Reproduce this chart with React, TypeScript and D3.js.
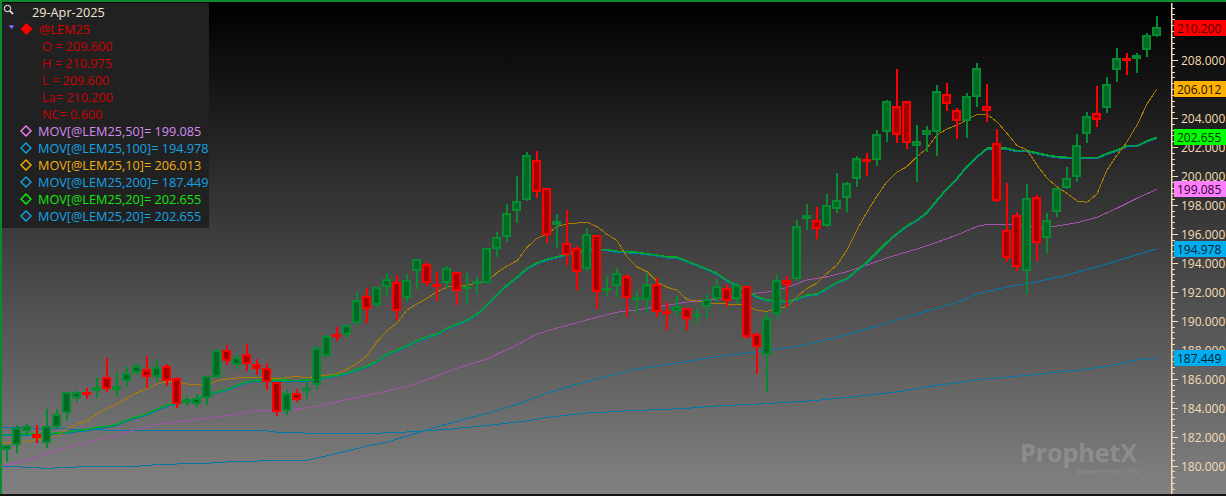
import React from 'react';
import * as d3 from 'd3';

// daily bars for @LEM25, oldest first
const opens = [181.09,181.41,182.42,182.19,181.55,182.65,183.62,184.65,185.09,185.14,186.10,185.25,185.83,186.38,186.65,186.14,186.88,186.03,184.31,184.26,184.65,186.10,187.97,186.97,187.69,187.02,186.76,185.78,183.80,185.00,185.21,185.57,187.59,189.09,189.04,189.83,191.71,191.11,192.31,192.66,191.60,193.42,193.90,192.54,192.61,193.39,192.29,192.66,192.63,194.94,195.76,197.56,198.34,201.10,199.17,196.63,195.39,195.05,193.60,195.94,192.13,192.40,193.11,191.51,191.42,192.56,190.66,190.66,190.91,190.31,190.95,191.53,192.29,191.49,192.38,189.07,187.66,190.45,192.80,192.89,197.01,196.98,196.56,197.74,198.46,199.77,201.17,201.08,203.01,204.85,205.19,202.09,202.84,203.01,205.67,204.57,203.77,205.43,204.80,202.29,196.27,197.32,193.42,198.52,195.69,197.49,199.19,199.95,202.87,204.36,204.67,207.33,208.14,208.05,208.69,209.69];
const highs = [181.43,182.79,182.88,182.79,183.89,183.89,185.09,185.23,185.36,186.12,187.43,186.47,186.88,187.07,187.57,187.34,187.02,186.12,184.86,184.95,186.21,187.99,188.33,187.71,188.40,187.37,187.07,185.78,185.23,185.27,185.80,188.26,189.02,189.55,189.83,191.99,192.27,192.35,193.30,193.14,193.23,194.25,194.06,193.37,193.76,193.39,193.30,193.02,195.05,196.11,198.04,199.99,201.63,201.72,199.17,197.37,197.65,195.16,196.38,195.94,193.02,193.62,193.21,192.04,193.28,192.93,191.28,191.69,190.91,190.88,191.85,192.89,192.54,192.63,192.38,189.25,190.52,193.14,193.07,196.94,198.06,197.83,198.75,200.18,199.58,201.37,201.58,203.17,205.24,207.38,205.19,203.51,203.44,206.27,206.41,204.67,205.70,207.77,206.34,203.22,199.49,197.53,199.42,198.68,197.42,199.19,200.59,202.87,204.39,206.21,206.81,208.81,208.46,208.46,209.84,211.02];
const lows = [180.28,180.90,182.10,181.59,181.24,182.51,183.09,184.40,184.61,184.69,185.11,184.76,185.41,186.24,185.34,185.76,185.52,184.00,184.14,184.05,184.21,186.03,186.95,186.65,186.56,186.28,185.23,183.45,183.50,184.40,184.61,185.32,187.52,188.61,188.90,189.71,189.87,190.88,191.73,190.06,191.30,192.20,192.42,191.37,192.27,191.09,191.16,191.85,192.59,194.40,195.46,196.77,198.27,198.50,195.39,195.05,193.80,192.15,193.46,190.80,191.73,191.66,190.28,190.56,190.56,190.28,189.37,190.24,189.37,189.80,190.22,191.32,190.97,191.16,188.75,186.35,185.11,190.10,190.97,192.77,196.29,195.67,196.50,197.46,197.53,199.26,199.99,200.68,202.34,202.27,201.86,199.58,201.65,201.37,204.48,202.55,202.62,204.74,203.74,198.22,194.08,193.44,191.85,194.15,194.70,197.14,199.12,199.60,202.25,203.40,204.36,206.50,206.98,207.12,208.23,209.60];
const closes = [181.41,182.58,182.76,181.91,182.76,183.59,185.07,185.07,184.90,185.41,185.32,185.52,186.38,186.88,186.10,186.79,185.87,184.26,184.58,184.65,186.21,187.97,187.25,187.48,187.00,186.70,185.76,183.73,185.00,184.56,185.34,188.15,188.97,188.90,189.73,191.46,190.84,192.35,192.91,190.66,192.84,194.25,192.63,192.35,193.62,192.08,192.40,192.77,195.05,195.81,197.46,198.29,201.46,198.87,195.92,196.87,194.56,193.35,196.01,191.97,192.27,193.32,191.55,191.64,192.56,190.59,190.52,191.04,190.10,190.45,191.53,192.38,191.39,192.45,188.90,188.21,190.22,192.84,192.45,196.56,197.32,196.36,198.01,198.36,199.49,201.22,201.03,202.91,205.15,202.84,202.25,202.43,203.15,205.88,204.94,203.77,205.54,207.47,204.50,198.29,194.31,193.73,198.50,195.35,196.94,199.19,199.88,202.15,204.16,203.84,206.36,208.16,208.02,208.32,209.72,210.29];

// moving averages, the first point sits on the left edge of the plot
const ma10 = [181.57,181.60,181.67,181.81,182.00,182.07,182.53,182.88,183.07,183.57,183.96,184.24,184.65,185.04,185.29,185.64,185.80,185.78,185.64,185.57,185.57,185.87,185.98,186.05,186.10,186.10,186.03,186.01,186.07,186.17,186.05,186.21,186.26,186.35,186.65,187.07,187.57,188.56,189.32,189.83,190.75,191.16,191.55,192.01,192.31,192.47,192.47,192.59,192.71,193.32,193.78,194.15,195.07,195.69,195.97,196.50,196.68,196.75,196.80,196.50,195.97,195.53,194.42,193.73,193.39,192.70,192.31,192.13,191.46,191.37,191.26,191.18,191.16,191.11,191.07,190.70,190.66,190.86,190.97,191.66,192.24,192.59,193.28,193.85,194.89,196.27,197.51,198.61,199.60,200.27,200.64,201.33,201.91,202.82,203.24,203.51,203.86,204.25,204.25,203.74,202.94,202.09,201.79,200.75,199.84,199.26,198.80,198.27,198.18,198.75,200.41,201.44,202.36,203.51,204.96,206.013];
const ma20 = [182.17,182.17,182.18,182.19,182.19,182.26,182.31,182.42,182.49,182.65,182.72,182.86,183.16,183.38,183.57,183.91,184.19,184.31,184.49,184.67,184.88,185.11,185.27,185.57,185.80,185.90,185.92,185.90,185.90,185.88,185.92,185.96,186.14,186.26,186.38,186.65,186.88,187.23,187.69,187.99,188.28,188.63,188.90,189.09,189.48,189.78,190.06,190.47,191.13,191.82,192.47,193.02,193.62,193.99,194.25,194.42,194.59,194.77,194.89,194.94,194.91,194.80,194.77,194.73,194.63,194.54,194.42,194.40,194.13,193.85,193.58,193.27,192.78,192.47,192.06,191.66,191.44,191.39,191.32,191.51,191.78,191.85,192.24,192.66,192.93,193.51,194.06,194.75,195.44,196.04,196.56,196.96,197.49,198.34,199.15,199.84,200.68,201.33,201.91,201.95,201.91,201.74,201.74,201.60,201.44,201.33,201.28,201.28,201.26,201.26,201.56,201.79,202.09,202.09,202.43,202.655];
const ma50Bars = [-0.5,1,3,5,7,9,11,13,15,17,19,21,23,25,27,29,30,32,35,38,40,43,45,48,51,53,55,58,61,63,66,68,70,72,74,76,78,80,82,84,86,88,91,93,95,97,98,100,102,104,107,109,111,113,115];
const ma50 = [180.05,180.17,180.58,181.04,181.41,181.78,182.12,182.51,182.86,183.02,183.18,183.36,183.57,183.80,183.83,183.89,183.98,184.26,184.69,185.16,185.45,186.19,186.72,187.37,188.33,189.09,189.50,190.06,190.59,190.75,191.07,191.30,191.42,191.58,191.83,191.99,192.30,192.82,193.04,193.39,193.85,194.34,194.96,195.42,195.92,196.51,196.66,196.66,196.51,196.43,196.77,197.14,197.77,198.46,199.085];
const ma100Bars = [-0.5,2,4,7,13,14,16,20,22,24,29,30,32,34,36,38,40,42,44,46,48,50,52,54,57,60,63,66,68,71,75,79,83,87,91,95,97,100,103,106,110,114,115];
const ma100 = [179.98,179.89,179.82,179.91,179.96,180.03,180.10,180.17,180.26,180.31,180.37,180.37,180.69,181.02,181.36,181.62,182.05,182.47,182.88,183.26,183.60,184.02,184.47,185.02,185.62,186.16,186.68,186.99,187.19,187.54,187.85,188.23,188.85,189.64,190.47,191.26,191.85,192.33,192.70,193.16,193.92,194.77,194.978];
const ma200Bars = [-0.5,4,6,11,19,20,26,27,29,30,36,40,44,48,52,54,58,62,68,71,76,81,85,89,93,97,100,102,107,110,113,115];
const ma200 = [182.65,182.58,182.53,182.44,182.44,182.40,182.40,182.31,182.31,182.24,182.21,182.33,182.50,182.78,183.09,183.34,183.64,183.78,183.96,184.12,184.29,184.51,184.79,185.09,185.54,185.92,186.12,186.24,186.59,186.86,187.30,187.449];

const yTickValues = [180,182,184,186,188,190,192,194,196,198,200,202,204,206,208,210];

const priceTags = [
  { label: '210.200', value: 210.2, color: '#ff0000', text: '#4a0000' },
  { label: '206.012', value: 206.012, color: '#ffb000', text: '#1a1000' },
  { label: '202.655', value: 202.655, color: '#00ff00', text: '#002a00' },
  { label: '199.085', value: 199.085, color: '#ff80ff', text: '#300030' },
  { label: '194.978', value: 194.978, color: '#00aeef', text: '#00202c' },
  { label: '187.449', value: 187.449, color: '#00aeef', text: '#00202c' },
];

const ohlcRows = ['O = 209.600', 'H = 210.975', 'L = 209.600', 'La= 210.200', 'NC= 0.600'];

const movRows = [
  { label: 'MOV[@LEM25,50]= 199.085', color: '#d48cf2', mark: '#ff80ff' },
  { label: 'MOV[@LEM25,100]= 194.978', color: '#12a4e8', mark: '#12a4e8' },
  { label: 'MOV[@LEM25,10]= 206.013', color: '#f2b010', mark: '#ffb000' },
  { label: 'MOV[@LEM25,200]= 187.449', color: '#12a4e8', mark: '#12a4e8' },
  { label: 'MOV[@LEM25,20]= 202.655', color: '#10e810', mark: '#00ff00' },
  { label: 'MOV[@LEM25,20]= 202.655', color: '#12a4e8', mark: '#12a4e8' },
];

const W = 1226;
const H = 496;
const FONT = '"Open Sans", sans-serif';
const LEGEND_SIZE = 12.7;

const x = d3.scaleLinear().domain([0, 115]).range([7, 1157]);
const y = d3.scaleLinear().domain([180, 208]).range([465.7, 60]);

const line = d3.line<[number, number]>()
  .x(d => x(d[0]))
  .y(d => y(d[1]));

const zip = (bars: number[], vals: number[]) => bars.map((b, i) => [b, vals[i]] as [number, number]);
const everyBar = ma10.map((_, i) => (i === 0 ? -0.5 : i));
const minorTicks = d3.range(178.4, 212, 0.4);

const Candle = ({ i }: { i: number }) => {
  const up = closes[i] >= opens[i];
  const edge = up ? '#068a32' : '#ff0000';
  const core = up ? '#006a24' : '#a50000';
  const cx = Math.round(x(i));
  const top = Math.round(y(Math.max(opens[i], closes[i])));
  const bot = Math.round(y(Math.min(opens[i], closes[i])));
  const h = Math.max(bot - top, 3);
  return (
    <g shapeRendering="crispEdges">
      <rect x={cx - 1} y={y(highs[i])} width={2} height={y(lows[i]) - y(highs[i])} fill={edge} />
      <rect x={cx - 5} y={top} width={9} height={h} fill={edge} />
      {h > 4 && <rect x={cx - 3} y={top + 2} width={5} height={h - 4} fill={core} />}
    </g>
  );
};

const Diamond = ({ cx, cy, r, fill, stroke }: { cx: number; cy: number; r: number; fill: string; stroke: string }) => (
  <polygon points={`${cx},${cy - r} ${cx + r},${cy} ${cx},${cy + r} ${cx - r},${cy}`} fill={fill} stroke={stroke} strokeWidth={1.4} />
);

const App: React.FC = () => {
  return (
    <svg width={W} height={H} style={{ position: 'absolute', left: 0, top: 0 }} fontFamily={FONT}>
      <defs>
        <linearGradient id="bg" x1="0" y1="0" x2="0" y2="1">
          <stop offset="0.01" stopColor="#000000" />
          <stop offset="1" stopColor="#828282" />
        </linearGradient>
        <clipPath id="plot"><rect x={2} y={3} width={1170} height={491} /></clipPath>
      </defs>
      <rect width={W} height={H} fill="url(#bg)" />

      {/* watermark */}
      <text x={1020} y={462} fontSize={25} fontWeight={700} fill="#ffffff" opacity={0.16}>ProphetX</text>
      <text x={1077} y={474} fontSize={8} fill="#ffffff" opacity={0.12}>powered by DTN</text>

      <g clipPath="url(#plot)" fill="none" shapeRendering="crispEdges">
        <path d={line(zip(ma200Bars, ma200)) ?? ''} stroke="#0078aa" strokeWidth={1} />
        <path d={line(zip(ma100Bars, ma100)) ?? ''} stroke="#0078aa" strokeWidth={1} />
        <path d={line(zip(ma50Bars, ma50)) ?? ''} stroke="#a552aa" strokeWidth={1} />
        <path d={line(zip(everyBar, ma20)) ?? ''} stroke="#0078aa" strokeWidth={1.5} transform="translate(0,1)" />
        <path d={line(zip(everyBar, ma20)) ?? ''} stroke="#00a828" strokeWidth={1.5} />
        <path d={line(zip(everyBar, ma10)) ?? ''} stroke="#ad7c00" strokeWidth={1} />
        {opens.map((_, i) => <Candle key={i} i={i} />)}
      </g>

      {/* price axis */}
      <rect x={1171} y={3} width={1.5} height={491} fill="#f5dcb4" />
      {minorTicks.map(t => (
        <rect key={t} x={1172} y={Math.round(y(t))} width={3} height={1} fill="#f5dcb4" shapeRendering="crispEdges" />
      ))}
      {yTickValues.map(t => (
        <g key={t}>
          <rect x={1172} y={Math.round(y(t))} width={6} height={1} fill="#f5dcb4" shapeRendering="crispEdges" />
          <text x={1181} y={y(t) + 0.5} dominantBaseline="central" fontSize={12} fill="#f5dcb4">{d3.format('.3f')(t)}</text>
        </g>
      ))}
      {priceTags.map(t => (
        <g key={t.label}>
          <rect x={1174} y={Math.round(y(t.value)) - 8} width={52} height={16} fill={t.color} />
          <text x={1177} y={y(t.value) + 0.5} dominantBaseline="central" fontSize={12} fill={t.text}>{t.label}</text>
        </g>
      ))}

      {/* legend panel */}
      <rect x={2} y={3} width={207} height={225} fill="#212121" />
      <g stroke="#ffffff" strokeWidth={1} fill="none">
        <circle cx={7.5} cy={8.5} r={3.2} />
        <line x1={10} y1={11} x2={13} y2={14} strokeWidth={1.6} />
      </g>
      <polygon points="8,25 15,25 11.5,29.5" fill="#8080ff" stroke="#101030" strokeWidth={0.7} />
      <Diamond cx={26.5} cy={29} r={5} fill="#ff0000" stroke="#ff0000" />
      <text x={32} y={11.5} dominantBaseline="central" fontSize={LEGEND_SIZE} fill="#f2e6d2">29-Apr-2025</text>
      <text x={39} y={28.5} dominantBaseline="central" fontSize={LEGEND_SIZE} fill="#d80000">@LEM25</text>
      {ohlcRows.map((r, i) => (
        <text key={r} x={42} y={46 + i * 17} dominantBaseline="central" fontSize={LEGEND_SIZE} fill="#cc0000">{r}</text>
      ))}
      {movRows.map((r, i) => (
        <g key={i}>
          <Diamond cx={26} cy={131 + i * 17} r={5} fill="none" stroke={r.mark} />
          <text x={38} y={130.5 + i * 17} dominantBaseline="central" fontSize={LEGEND_SIZE} fill={r.color}>{r.label}</text>
        </g>
      ))}

      {/* window frame */}
      <rect x={0} y={0} width={W} height={2} fill="#0c8a2e" />
      <rect x={0} y={0} width={2} height={H} fill="#0c8a2e" />
      <rect x={0} y={494} width={W} height={2} fill="#141414" />
    </svg>
  );
};

export default App;
